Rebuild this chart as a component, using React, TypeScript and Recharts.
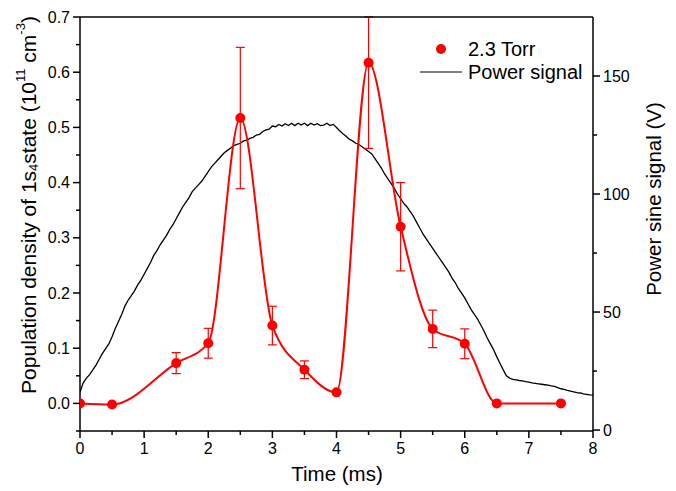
import React from 'react';
import { LineChart, Line, XAxis, YAxis, ErrorBar, ReferenceLine, Legend } from 'recharts';

// Red series: 2.3 Torr population density (10^11 cm^-3)
const times = [0, 0.5, 1.5, 2, 2.5, 3, 3.5, 4, 4.5, 5, 5.5, 6, 6.5, 7.5];
const density = [0, -0.002, 0.073, 0.109, 0.517, 0.141, 0.061, 0.02, 0.617, 0.32, 0.135, 0.108, 0.0, 0.0];
// [lower, upper] error; the 4.5 ms bar runs off the top of the frame
const densityErr: any[] = [null, null, 0.019, 0.027, 0.128, 0.035, 0.016, null, [0.155, 0.083], 0.08, 0.034, 0.027, null, null];

// Black series: power sine signal (V), sampled every 0.05 ms from 0 to 8 ms
const powerStart = 0;
const powerStep = 0.05;
const power = [
  16, 20, 22, 23.5, 25.5, 27.5, 30, 32.5, 34.5, 36.5, 39.5, 43, 46, 49, 52.5, 55, 57, 59, 61.5, 63.5,
  66, 68.5, 71, 74, 76, 78.5, 80.5, 82.5, 85, 87, 89.5, 92, 94.5, 96.5, 98.5, 101, 102.5, 104, 105.5, 107.5,
  109.5, 111.5, 113, 114.5, 116, 117.5, 118.5, 119.5, 120.5, 121, 121.5, 122.5, 122.8, 123.6, 124, 125, 125.3, 126.5, 127.2, 127.5,
  128.8, 128.5, 129.5, 128.8, 129.8, 129, 130, 129, 130, 129.2, 130, 129, 130, 129.2, 129.8, 129, 129.2, 130, 129, 129.5,
  128.2, 126.8, 125.5, 124.5, 123.2, 122.5, 121.5, 121, 120, 119, 118, 117, 115, 113, 111, 108.5, 106.5, 104.5, 102.5, 100,
  98, 96, 94.5, 92.5, 90.5, 88, 85.5, 83, 81, 79, 77, 75, 73, 71, 69, 67, 64.5, 62.5, 60, 58,
  56, 53.5, 51, 49, 47, 44.5, 42, 39, 36.5, 34, 31, 28.2, 25.5, 23, 22, 21.5, 21.3, 21, 20.8, 20.5,
  20.3, 20, 19.8, 19.6, 19.4, 19.2, 19, 18.7, 18.5, 18, 17.5, 17.2, 16.8, 16.5, 16.2, 15.9, 15.7, 15.3, 15.1, 14.9,
  14.8,
];

const xTicks = [0, 0.5, 1, 1.5, 2, 2.5, 3, 3.5, 4, 4.5, 5, 5.5, 6, 6.5, 7, 7.5, 8];
const leftTicks = [-0.05, 0, 0.05, 0.1, 0.15, 0.2, 0.25, 0.3, 0.35, 0.4, 0.45, 0.5, 0.55, 0.6, 0.65, 0.7];
const rightTicks = [0, 25, 50, 75, 100, 125, 150];

const redData = times.map((t, i) => ({ t, v: density[i], err: densityErr[i] }));
const powerData = power.map((p, i) => ({ t: Math.round((powerStart + i * powerStep) * 100) / 100, p }));

const FONT = 'Arial, "Liberation Sans", sans-serif';
const RED = '#ff0000';

const isMultiple = (v: number, step: number) => Math.abs(v / step - Math.round(v / step)) < 1e-6;

const XTick = (props: any) => {
  const { x, y, payload } = props;
  const v = payload.value;
  const major = isMultiple(v, 1);
  return (
    <g>
      <line x1={x} x2={x} y1={y} y2={y + (major ? 7 : 4)} stroke="#000" strokeWidth={1.5} />
      {major && (
        <text x={x} y={y + 23} textAnchor="middle" fontSize={16} fontFamily={FONT} fill="#000">
          {v}
        </text>
      )}
    </g>
  );
};

const LeftTick = (props: any) => {
  const { x, y, payload } = props;
  const v = payload.value;
  const major = isMultiple(v, 0.1);
  return (
    <g>
      <line x1={x - (major ? 7 : 4)} x2={x} y1={y} y2={y} stroke="#000" strokeWidth={1.5} />
      {major && (
        <text x={x - 10} y={y + 5.6} textAnchor="end" fontSize={16} fontFamily={FONT} fill="#000">
          {v.toFixed(1)}
        </text>
      )}
    </g>
  );
};

const RightTick = (props: any) => {
  const { x, y, payload } = props;
  const v = payload.value;
  const major = isMultiple(v, 50);
  return (
    <g>
      <line x1={x} x2={x + (major ? 7 : 4)} y1={y} y2={y} stroke="#000" strokeWidth={1.5} />
      {major && (
        <text x={x + 10} y={y + 5.6} textAnchor="start" fontSize={16} fontFamily={FONT} fill="#000">
          {v}
        </text>
      )}
    </g>
  );
};

const LeftTitle = () => (
  <text
    x={28}
    y={205}
    transform="rotate(-90 28 205)"
    textAnchor="middle"
    dominantBaseline="central"
    fontSize={21}
    fontFamily={FONT}
    fill="#000"
  >
    Population density of 1s
    <tspan fontSize={13} dy={5}>4</tspan>
    <tspan dy={-5}>state (10</tspan>
    <tspan fontSize={13} dy={-8}>11</tspan>
    <tspan dy={8}> cm</tspan>
    <tspan fontSize={13} dy={-8}>-3</tspan>
    <tspan dy={8}>)</tspan>
  </text>
);

const RightTitle = () => (
  <text
    x={653}
    y={199}
    transform="rotate(-90 653 199)"
    textAnchor="middle"
    dominantBaseline="central"
    fontSize={20.5}
    fontFamily={FONT}
    fill="#000"
  >
    Power sine signal (V)
  </text>
);

const XTitle = () => (
  <text x={337} y={481} textAnchor="middle" fontSize={20.5} fontFamily={FONT} fill="#000">
    Time (ms)
  </text>
);

const LegendContent = () => (
  <svg width={190} height={50} style={{ display: 'block' }}>
    <circle cx={25} cy={13} r={5} fill={RED} />
    <text x={52} y={20} fontSize={20} fontFamily={FONT} fill="#000">2.3 Torr</text>
    <line x1={4} x2={46} y1={36} y2={36} stroke="#000" strokeWidth={1} />
    <text x={52} y={43} fontSize={20} fontFamily={FONT} fill="#000">Power signal</text>
  </svg>
);

export default function App() {
  return (
    <div style={{ position: 'absolute', left: 0, top: 0, width: 676, height: 491, background: '#fff' }}>
      <LineChart width={676} height={491} margin={{ top: 17, right: 0, bottom: 0, left: 0 }}>
        <XAxis
          xAxisId="x"
          type="number"
          dataKey="t"
          domain={[0, 8]}
          ticks={xTicks}
          interval={0}
          allowDataOverflow
          height={60}
          tickSize={0}
          tickMargin={0}
          tickLine={false}
          tick={<XTick />}
          axisLine={{ stroke: '#000', strokeWidth: 1.5 }}
          label={{ content: () => <XTitle /> }}
        />
        <YAxis
          yAxisId="left"
          type="number"
          domain={[-0.05, 0.7]}
          ticks={leftTicks}
          interval={0}
          allowDataOverflow
          width={80}
          tickSize={0}
          tickMargin={0}
          tickLine={false}
          tick={<LeftTick />}
          axisLine={{ stroke: '#000', strokeWidth: 1.5 }}
          label={{ content: () => <LeftTitle /> }}
        />
        <YAxis
          yAxisId="right"
          orientation="right"
          type="number"
          domain={[-0.4, 175]}
          ticks={rightTicks}
          interval={0}
          allowDataOverflow
          width={83}
          tickSize={0}
          tickMargin={0}
          tickLine={false}
          tick={<RightTick />}
          axisLine={{ stroke: '#000', strokeWidth: 1.5 }}
          label={{ content: () => <RightTitle /> }}
        />
        <Legend
          layout="horizontal"
          verticalAlign="middle"
          align="center"
          content={<LegendContent />}
          wrapperStyle={{ position: 'absolute', left: 416, top: 36, width: 190, height: 50 }}
        />
        <Line
          xAxisId="x"
          yAxisId="right"
          data={powerData}
          dataKey="p"
          name="Power signal"
          type="linear"
          stroke="#000"
          strokeWidth={1.3}
          dot={false}
          activeDot={false}
          isAnimationActive={false}
        />
        <Line
          xAxisId="x"
          yAxisId="left"
          data={redData}
          dataKey="v"
          name="2.3 Torr"
          type="monotone"
          stroke={RED}
          strokeWidth={2}
          dot={{ r: 5, fill: RED, stroke: RED, strokeWidth: 0 }}
          activeDot={false}
          isAnimationActive={false}
        >
          <ErrorBar dataKey="err" width={4.5} stroke={RED} strokeWidth={1.2} direction="y" />
        </Line>
        <ReferenceLine xAxisId="x" yAxisId="left" y={0.7} stroke="#000" strokeWidth={1.5} />
      </LineChart>
    </div>
  );
}
